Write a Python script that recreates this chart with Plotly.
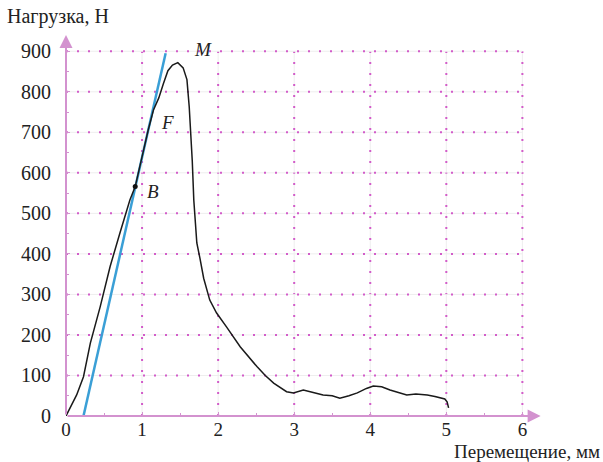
import plotly.graph_objects as go

# Load-displacement curve (mm, N)
disp = [0, 0.05, 0.14, 0.23, 0.32, 0.45, 0.54, 0.58, 0.71, 0.84, 0.91, 1.0, 1.08, 1.15,
        1.22, 1.28, 1.34, 1.40, 1.47, 1.54, 1.59, 1.62, 1.64, 1.66, 1.68, 1.70, 1.72, 1.76,
        1.81, 1.89, 1.98, 2.11, 2.29, 2.51, 2.62, 2.73, 2.82, 2.9, 2.99, 3.05, 3.12,
        3.25, 3.38, 3.5, 3.6, 3.72, 3.83, 3.95, 4.04, 4.15, 4.26, 4.37, 4.48, 4.6,
        4.75, 4.85, 4.92, 4.98, 5.01, 5.03]
load = [0, 20, 52, 97, 180, 270, 336, 369, 452, 533, 566, 640, 705, 755,
        785, 820, 852, 866, 872, 859, 830, 763, 700, 630, 533, 470, 427, 390,
        340, 286, 254, 220, 171, 122, 100, 81, 69, 60, 57, 60, 64,
        58, 52, 50, 44, 50, 57, 68, 74, 72, 64, 58, 52, 54,
        52, 48, 44, 42, 35, 20]

# Elastic tangent line
tan_x = [0.23, 1.31]
tan_y = [0, 895]

# Point B
b_x = [0.91]
b_y = [566]

# Point labels
lbl_text = ["M", "F", "B"]
lbl_x = [1.80, 1.34, 1.14]
lbl_y = [904, 723, 553]

x_ticks = [0, 1, 2, 3, 4, 5, 6]
y_ticks = [0, 100, 200, 300, 400, 500, 600, 700, 800, 900]

SERIF = "Times New Roman"
PINK = "#d25cc9"
AXIS = "#d392cf"

fig = go.Figure()
fig.add_trace(go.Scatter(x=tan_x, y=tan_y, mode="lines",
                         line=dict(color="#3a9fd6", width=2.5), cliponaxis=False,
                         hoverinfo="skip"))
fig.add_trace(go.Scatter(x=disp, y=load, mode="lines",
                         line=dict(color="#1a1a1a", width=1.5), cliponaxis=False))
fig.add_trace(go.Scatter(x=b_x, y=b_y, mode="markers",
                         marker=dict(color="#111", size=5), cliponaxis=False))

shapes = []
for xv in x_ticks[1:]:
    shapes.append(dict(type="line", x0=xv, x1=xv, y0=0, y1=y_ticks[-1], xref="x", yref="y",
                       layer="below", line=dict(color="#eeeeee", width=1)))
    shapes.append(dict(type="line", x0=xv, x1=xv, y0=0, y1=y_ticks[-1], xref="x", yref="y",
                       layer="below", line=dict(color=PINK, width=2, dash="2px,9px")))
for yv in y_ticks[1:]:
    shapes.append(dict(type="line", x0=0, x1=x_ticks[-1], y0=yv, y1=yv, xref="x", yref="y",
                       layer="below", line=dict(color="#eeeeee", width=1)))
    shapes.append(dict(type="line", x0=0, x1=x_ticks[-1], y0=yv, y1=yv, xref="x", yref="y",
                       layer="below", line=dict(color=PINK, width=2, dash="2px,9px")))

W, H = 603, 462
L, R, T, B = 66, 54, 31, 46
pw, ph = W - L - R, H - T - B

def px_x(p):
    return (p - L) / pw

def px_y(p):
    return 1 - (p - T) / ph

annotations = []
annotations.append(dict(x=6.24, y=0, ax=0, ay=0, xref="x", yref="y", axref="x", ayref="y",
                        text="", showarrow=True, arrowhead=2, arrowsize=1.3, arrowwidth=2,
                        arrowcolor=AXIS))
annotations.append(dict(x=0, y=940, ax=0, ay=0, xref="x", yref="y", axref="x", ayref="y",
                        text="", showarrow=True, arrowhead=2, arrowsize=1.3, arrowwidth=2,
                        arrowcolor=AXIS))
for t, xv, yv in zip(lbl_text, lbl_x, lbl_y):
    annotations.append(dict(x=xv, y=yv, xref="x", yref="y", text="<i>%s</i>" % t,
                            showarrow=False, font=dict(family=SERIF, size=19, color="#222")))
annotations.append(dict(x=px_x(5), y=px_y(16), xref="paper", yref="paper", text="Нагрузка, Н",
                        showarrow=False, xanchor="left", yanchor="middle",
                        font=dict(family=SERIF, size=20, color="#222")))
annotations.append(dict(x=px_x(601), y=px_y(463), xref="paper", yref="paper",
                        text="Перемещение, мм",
                        showarrow=False, xanchor="right", yanchor="bottom",
                        borderpad=0,
                        font=dict(family=SERIF, size=19, color="#222")))

fig.update_layout(
    width=W, height=H,
    margin=dict(l=L, r=R, t=T, b=B, autoexpand=False),
    paper_bgcolor="white", plot_bgcolor="white",
    showlegend=False,
    font=dict(family=SERIF),
    shapes=shapes, annotations=annotations,
    xaxis=dict(range=[0, 6.35], tickvals=x_ticks, showgrid=False, zeroline=False,
               showline=False, ticks="inside", ticklen=4, tickcolor=AXIS, automargin=False,
               minor=dict(dtick=0.5, ticks="inside", ticklen=3, tickcolor=AXIS),
               tickfont=dict(family=SERIF, size=19, color="#222"), ticklabelstandoff=0),
    yaxis=dict(range=[0, 950], tickvals=y_ticks, showgrid=False, zeroline=False,
               showline=False, ticks="inside", ticklen=4, tickcolor=AXIS, automargin=False,
               minor=dict(dtick=50, ticks="inside", ticklen=3, tickcolor=AXIS),
               tickfont=dict(family=SERIF, size=20, color="#222"), ticklabelstandoff=14),
)

fig.write_html("out.html", post_script="document.body.style.margin='0';",
               config={"displayModeBar": False})
